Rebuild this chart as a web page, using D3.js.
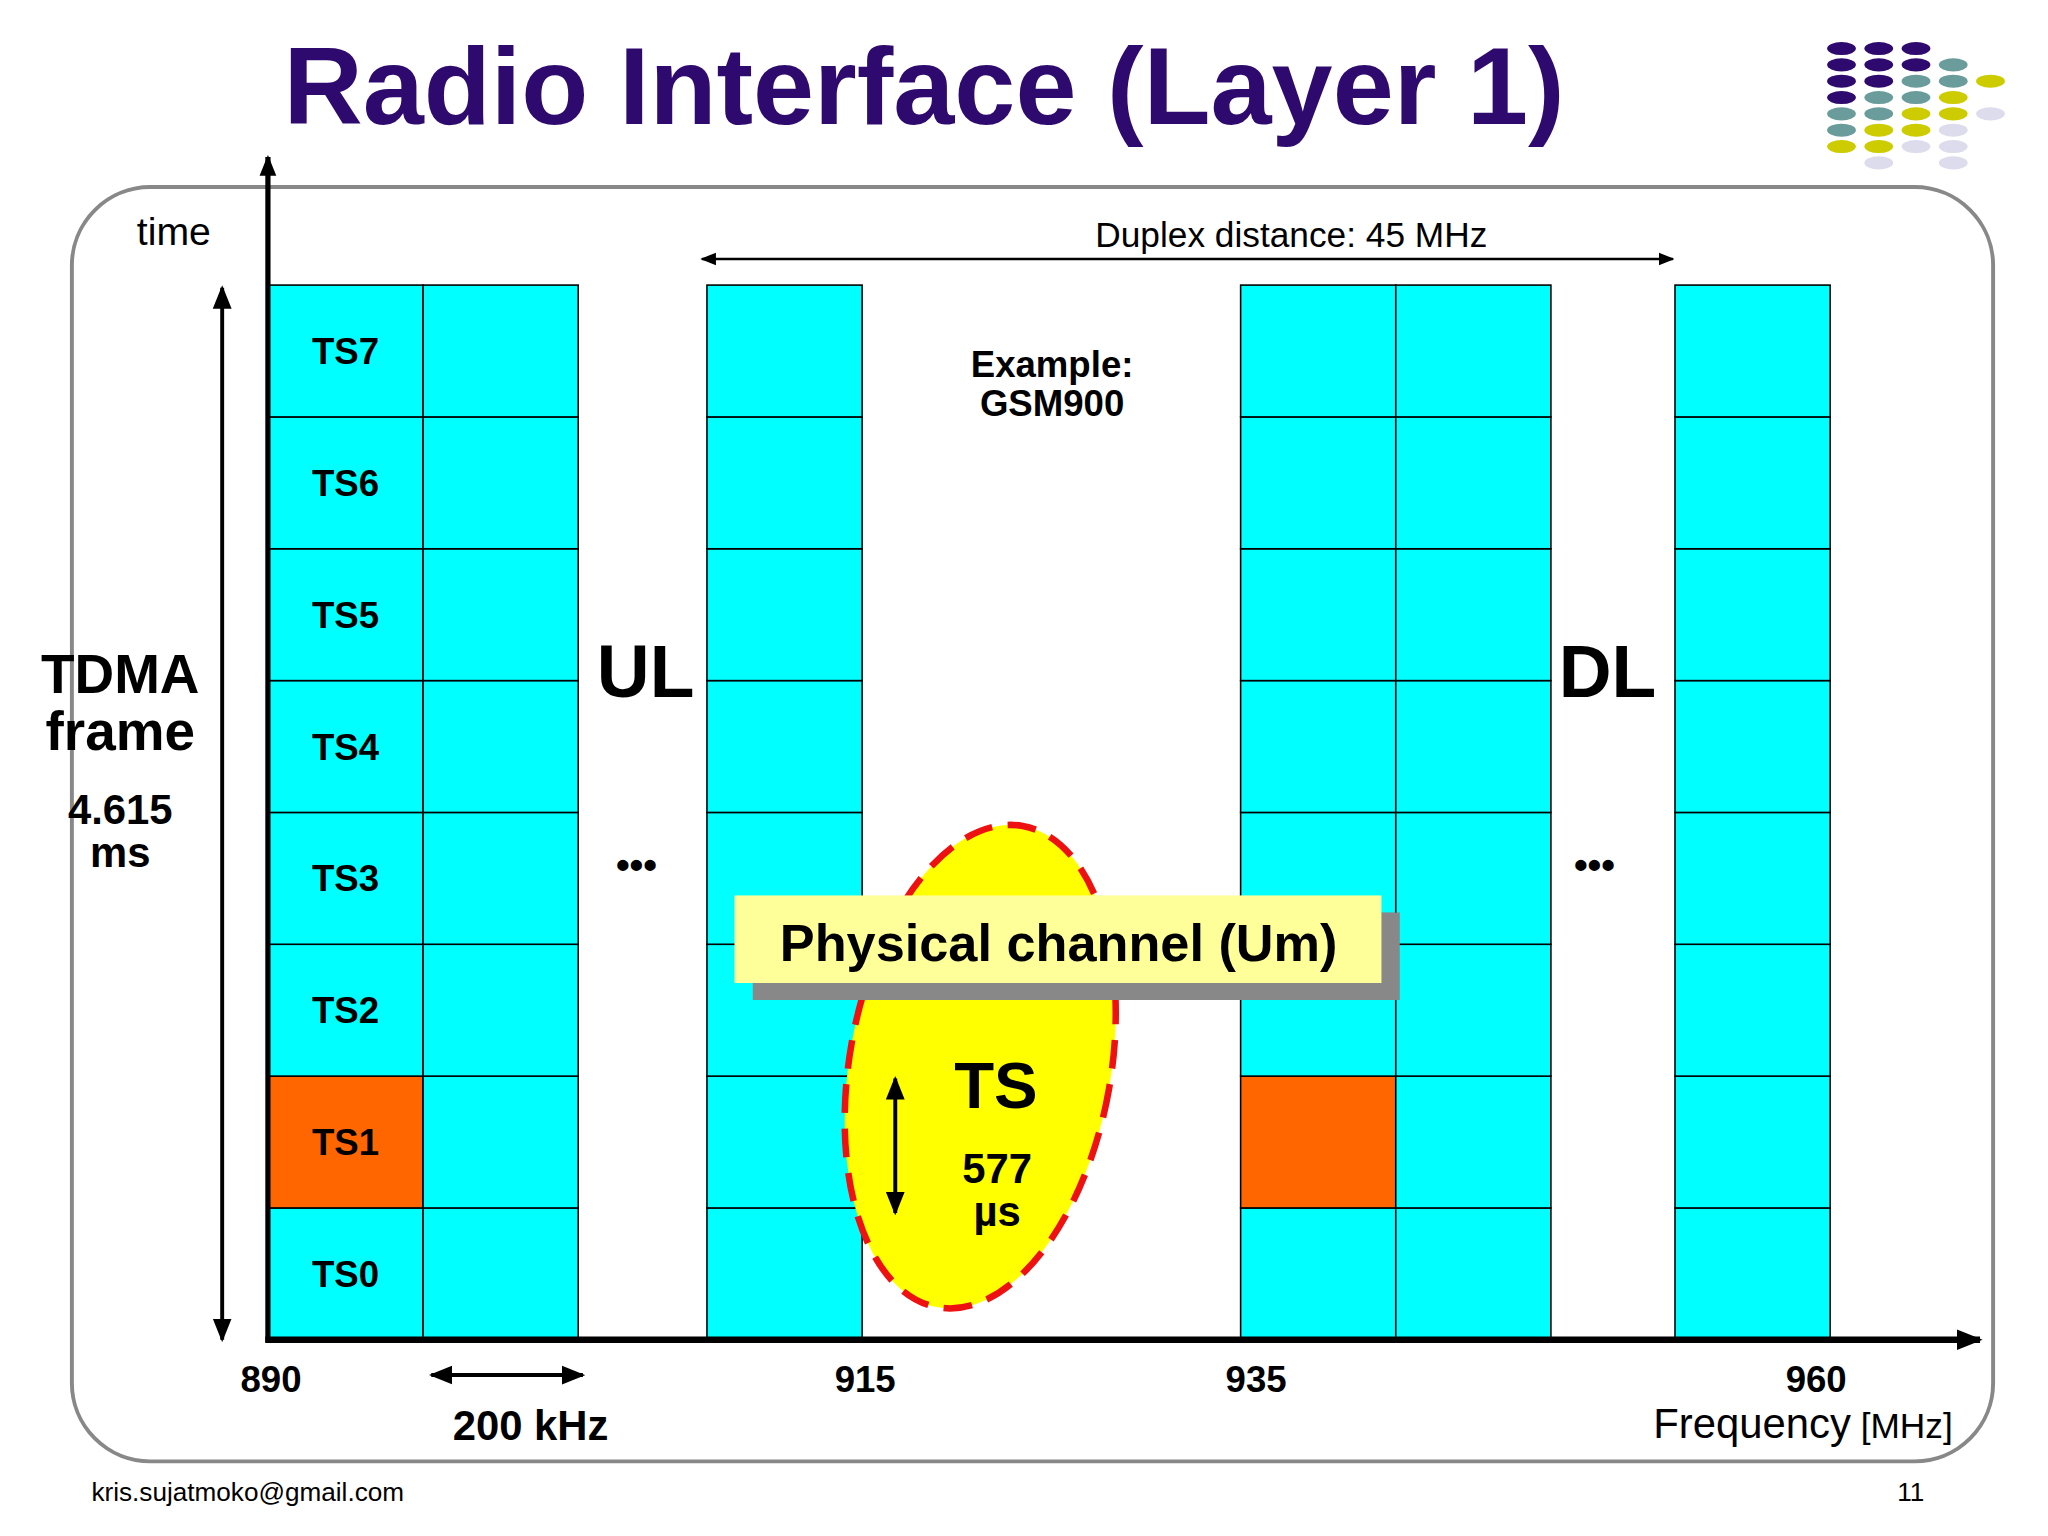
<!DOCTYPE html>
<html><head><meta charset="utf-8">
<script src="https://cdn.jsdelivr.net/npm/d3@7"></script>
<style>body{margin:0;background:#fff}text{font-family:"Liberation Sans",Arial,sans-serif}</style>
</head><body>
<script>
// data
const slots = ["TS0","TS1","TS2","TS3","TS4","TS5","TS6","TS7"];
const carriers = [0, 1, 2.83, 6.27, 7.27, 9.07];   // carrier column positions (channel index)
const busy = [[0, 1], [3, 1]];                      // [carrier, slot] highlighted
const freqTicks = [{pos: 0.02, label: "890"}, {pos: 3.85, label: "915"}, {pos: 6.37, label: "935"}, {pos: 9.98, label: "960"}];
const logoRows = ["PPP", "PPPT", "PPTTY", "PTTY", "TTYYL", "TYYL", "YYLL", " L L"];
const logoColors = {P: "#2e0a6e", T: "#6a9c9c", Y: "#cccc00", L: "#dcdcec"};

const svg = d3.select("body").append("svg")
  .attr("width", 2048).attr("height", 1536)
  .attr("viewBox", "0 0 1567 1175");

const x = d3.scaleLinear().domain([0, 10]).range([205, 1392]);
const y = d3.scaleBand().domain(slots).range([1025, 218]);
const cw = x(1) - x(0);

const defs = svg.append("defs");
defs.append("marker").attr("id", "ah").attr("viewBox", "0 0 10 10").attr("refX", 9).attr("refY", 5)
  .attr("markerWidth", 6).attr("markerHeight", 6).attr("orient", "auto-start-reverse")
  .append("path").attr("d", "M0,1 L10,5 L0,9 Z").attr("fill", "#000");
defs.append("marker").attr("id", "ahb").attr("viewBox", "0 0 10 10").attr("refX", 9).attr("refY", 5)
  .attr("markerWidth", 4).attr("markerHeight", 4).attr("orient", "auto")
  .append("path").attr("d", "M0,1 L10,5 L0,9 Z").attr("fill", "#000");

// title
svg.append("text").attr("x", 707).attr("y", 95).attr("text-anchor", "middle")
  .attr("font-size", 84).attr("font-weight", "bold").attr("fill", "#2e0a6e").text("Radio Interface (Layer 1)");

// logo
logoRows.forEach((row, r) => row.split("").forEach((c, i) => {
  if (c === " ") return;
  svg.append("ellipse").attr("cx", 1409 + i * 28.5).attr("cy", 37 + r * 12.5)
    .attr("rx", 11).attr("ry", 5).attr("fill", logoColors[c]);
}));

// frame
svg.append("rect").attr("x", 55).attr("y", 143).attr("width", 1470).attr("height", 975)
  .attr("rx", 60).attr("fill", "none").attr("stroke", "#888").attr("stroke-width", 3);

// cells
const cells = [];
carriers.forEach((c, ci) => slots.forEach((s, si) => cells.push({ci, c, s, si})));
svg.append("g").selectAll("rect").data(cells).join("rect")
  .attr("x", d => x(d.c)).attr("y", d => y(d.s)).attr("width", cw).attr("height", y.bandwidth())
  .attr("fill", d => busy.some(b => b[0] === d.ci && b[1] === d.si) ? "#ff6600" : "#00ffff")
  .attr("stroke", "#000").attr("stroke-width", 1.2);

svg.append("g").selectAll("text").data(slots).join("text")
  .attr("x", x(0) + cw / 2).attr("y", d => y(d) + y.bandwidth() / 2 + 10)
  .attr("text-anchor", "middle").attr("font-size", 28).attr("font-weight", "bold").text(d => d);

// axes
svg.append("line").attr("x1", 205).attr("y1", 1027).attr("x2", 205).attr("y2", 120)
  .attr("stroke", "#000").attr("stroke-width", 4).attr("marker-end", "url(#ahb)");
svg.append("line").attr("x1", 203).attr("y1", 1025).attr("x2", 1515).attr("y2", 1025)
  .attr("stroke", "#000").attr("stroke-width", 5).attr("marker-end", "url(#ahb)");

function dbl(x1, y1, x2, y2, w) {
  svg.append("line").attr("x1", x1).attr("y1", y1).attr("x2", x2).attr("y2", y2)
    .attr("stroke", "#000").attr("stroke-width", w)
    .attr("marker-start", "url(#ah)").attr("marker-end", "url(#ah)");
}
dbl(170, 220, 170, 1025, 3);
dbl(537, 198, 1280, 198, 2);
dbl(330, 1052, 446, 1052, 3);

function txt(x0, y0, s, size, bold, anchor) {
  return svg.append("text").attr("x", x0).attr("y", y0).attr("font-size", size)
    .attr("font-weight", bold ? "bold" : "normal").attr("text-anchor", anchor || "middle").text(s);
}
txt(133, 187, "time", 30, false);
txt(988, 189, "Duplex distance: 45 MHz", 27, false);
txt(805, 288, "Example:", 28, true);
txt(805, 318, "GSM900", 28, true);
txt(92, 530, "TDMA", 42, true);
txt(92, 574, "frame", 42, true);
txt(92, 630, "4.615", 32, true);
txt(92, 663, "ms", 32, true);
txt(494, 533, "UL", 56, true);
txt(1230, 533, "DL", 56, true);
txt(487, 672, "•••", 30, true);
txt(1220, 672, "•••", 30, true);

// ellipse + physical channel box
const ell = svg.append("g").attr("transform", "translate(750,816) rotate(10)");
ell.append("ellipse").attr("rx", 100).attr("ry", 187).attr("fill", "#ffff00")
  .attr("stroke", "#ee1111").attr("stroke-width", 5).attr("stroke-dasharray", "22,12");
svg.append("rect").attr("x", 576).attr("y", 698).attr("width", 495).attr("height", 67).attr("fill", "#888");
svg.append("rect").attr("x", 562).attr("y", 685).attr("width", 495).attr("height", 67).attr("fill", "#ffff99");
txt(810, 735, "Physical channel (Um)", 40, true);

dbl(685, 825, 685, 928, 3);
txt(762, 848, "TS", 50, true);
txt(763, 905, "577", 32, true);
txt(763, 938, "µs", 32, true);

// frequency labels
svg.append("g").selectAll("text").data(freqTicks).join("text")
  .attr("x", d => x(d.pos)).attr("y", 1065).attr("text-anchor", "middle")
  .attr("font-size", 28).attr("font-weight", "bold").text(d => d.label);
txt(406, 1102, "200 kHz", 32, true);
const f = txt(1265, 1100, "Frequency", 32, false, "start");
f.append("tspan").attr("font-size", 27).text(" [MHz]");

txt(70, 1148, "kris.sujatmoko@gmail.com", 20, false, "start");
txt(1462, 1148, "11", 20, false);
</script>
</body></html>
